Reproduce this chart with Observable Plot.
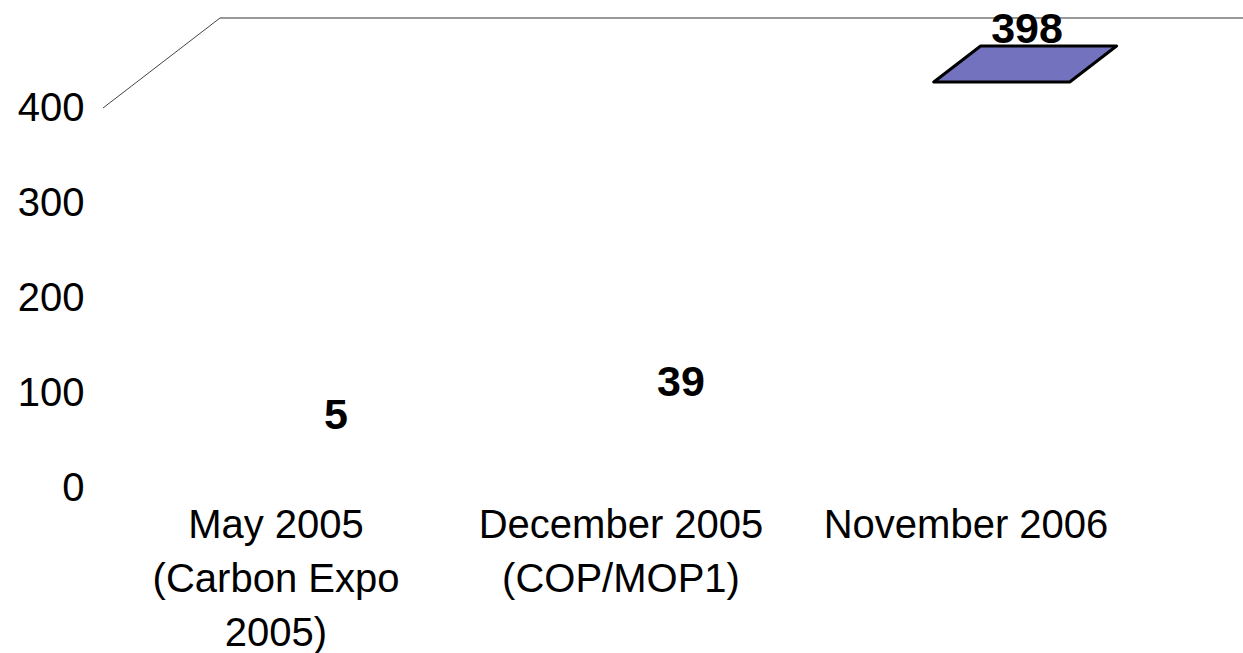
<!DOCTYPE html>
<html>
<head>
<meta charset="utf-8">
<script src="https://cdn.jsdelivr.net/npm/d3@7"></script>
<script src="https://cdn.jsdelivr.net/npm/@observablehq/plot@0.6"></script>
<style>
  html, body { margin: 0; padding: 0; background: #fff; }
  svg { display: block; }
</style>
</head>
<body>
<div id="chart"></div>
<script>
// ---- data ----
const categories = ["May 2005\n(Carbon Expo\n2005)", "December 2005\n(COP/MOP1)", "November 2006"];
const values = [5, 39, 398];
const yTicks = [0, 100, 200, 300, 400];
const yMax = 400;

const data = categories.map((cat, i) => ({cat, value: values[i]}));
const tallest = d3.max(values);

// 3D geometry (pixels)
const DEPTH_X = 117, DEPTH_Y = -90;   // wall depth
const F1 = 0.31, F2 = 0.71;           // bar front/back depth fractions
const BAR_W = 0.394;                  // bar width as fraction of band

function bandInfo(scales, cat, dims) {
  const bw = scales.x.bandwidth ? scales.x.bandwidth()
    : (dims.width - dims.marginLeft - dims.marginRight) / categories.length;
  return {x0: scales.x(cat), bw};
}

// wall outline: front-left diagonal + back top edge at the axis maximum
const wall = Plot.ruleY([yMax], {
  render: (index, scales, values, dims) => {
    const g = d3.create("svg:g");
    const y = scales.y(yMax);
    const x0 = dims.marginLeft;
    const x1 = dims.width - dims.marginRight;
    g.append("line")
      .attr("x1", x0).attr("y1", y)
      .attr("x2", x0 + DEPTH_X).attr("y2", y + DEPTH_Y)
      .attr("stroke", "#444").attr("stroke-width", 1);
    g.append("line")
      .attr("x1", x0 + DEPTH_X).attr("y1", y + DEPTH_Y)
      .attr("x2", x1 + DEPTH_X).attr("y2", y + DEPTH_Y)
      .attr("stroke", "#777").attr("stroke-width", 1.3);
    return g.node();
  }
});

// visible top face of the tallest bar
const faceRows = data.filter(d => d.value === tallest);
const faces = Plot.barY(faceRows, {
  x: "cat", y: "value",
  render: (index, scales, values, dims) => {
    const g = d3.create("svg:g");
    for (const i of index) {
      const d = faceRows[i];
      const {x0, bw} = bandInfo(scales, d.cat, dims);
      const cx = x0 + bw / 2;
      const w = bw * BAR_W;
      const y = scales.y(d.value);
      const fx = cx + DEPTH_X * F1, fy = y + DEPTH_Y * F1;
      const bx = cx + DEPTH_X * F2, by = y + DEPTH_Y * F2;
      const pts = [[fx - w / 2, fy], [fx + w / 2, fy], [bx + w / 2, by], [bx - w / 2, by]];
      g.append("path")
        .attr("d", "M" + pts.map(p => p.join(",")).join("L") + "Z")
        .attr("fill", "#7272BE")
        .attr("stroke", "#000")
        .attr("stroke-width", 3)
        .attr("stroke-linejoin", "round");
    }
    return g.node();
  }
});

const chart = Plot.plot({
  width: 1243,
  height: 653,
  marginLeft: 103,
  marginRight: 105,
  marginTop: 108,
  marginBottom: 165,
  style: {fontFamily: "'Liberation Sans', Arial, sans-serif", fontSize: "39px", color: "#000", background: "#fff"},
  x: {type: "band", domain: categories, padding: 0},
  y: {domain: [0, yMax]},
  marks: [
    wall,
    faces,
    Plot.axisY({ticks: yTicks, tickSize: 0, tickPadding: 19, label: null, fontSize: 40, tickFormat: d => String(d)}),
    Plot.axisX({tickSize: 0, tickPadding: 11, label: null, fontSize: 40, lineHeight: 1.35}),
    Plot.text(data.filter(d => d.value !== tallest), {
      x: "cat", y: "value", text: d => String(d.value),
      dx: 60, dy: -69, fontSize: 43, fontWeight: "bold", fill: "#000"
    }),
    Plot.text(faceRows, {
      x: "cat", y: "value", text: d => String(d.value),
      dx: 61, dy: -81, fontSize: 43, fontWeight: "bold", fill: "#000"
    })
  ]
});
document.getElementById("chart").appendChild(chart);
</script>
</body>
</html>
